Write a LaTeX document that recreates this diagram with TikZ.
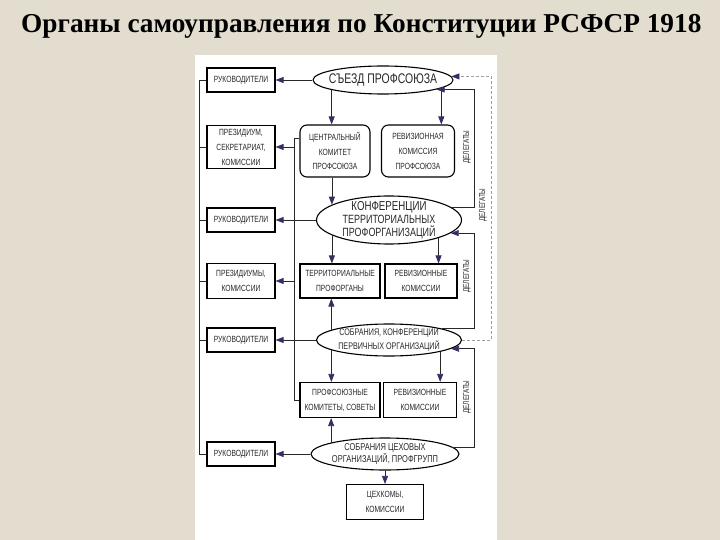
\documentclass[tikz,border=0pt]{standalone}
\usepackage{fontspec}
\setmainfont{Liberation Serif}
\newfontfamily\diagfont[FakeStretch=0.75]{Liberation Sans}
\usetikzlibrary{arrows.meta,shapes.geometric}
\definecolor{paper}{RGB}{227,221,208}
\definecolor{tipcol}{RGB}{58,44,98}
\definecolor{inkcol}{RGB}{40,40,40}

\begin{document}
\begin{tikzpicture}[
  x=1bp, y=-1bp,
  every node/.style={inner sep=1pt, text=inkcol},
  box/.style={draw=black, line width=1.1bp, align=center, inner sep=0pt,
    font=\diagfont\fontsize{9}{15}\selectfont},
  leftbox/.style={box, minimum width=68bp},
  rbox/.style={box, rounded corners=7bp},
  oval/.style={ellipse, draw=black, line width=1.1bp, fill=white, inner sep=0pt},
  olbl/.style={align=center, inner sep=0pt},
  deleg/.style={rotate=90, font=\diagfont\fontsize{8.5}{9}\selectfont},
  link/.style={draw=inkcol, line width=0.7bp},
  arrow/.style={link, -{Triangle[length=8bp,width=6bp,color=tipcol]}},
  darrow/.style={arrow, draw=gray!75, dash pattern=on 3bp off 2bp}]

  \useasboundingbox (0,0) rectangle (720,540);
  \fill[paper] (0,0) rectangle (720,540);
  \fill[white] (195,55) rectangle (497,540);

  \node[anchor=base west, text=black, font=\fontsize{27.4}{32}\selectfont\bfseries]
    (title) at (20,33) {Органы самоуправления по Конституции РСФСР 1918};

  % left column
  \node[leftbox, minimum height=24bp] (ruk1)  at (241,80)  {РУКОВОДИТЕЛИ};
  \node[leftbox, minimum height=43bp] (prez1) at (241,147) {ПРЕЗИДИУМ,\\СЕКРЕТАРИАТ,\\КОМИССИИ};
  \node[leftbox, minimum height=24bp] (ruk2)  at (241,220) {РУКОВОДИТЕЛИ};
  \node[leftbox, minimum height=35bp] (prez2) at (241,281) {ПРЕЗИДИУМЫ,\\КОМИССИИ};
  \node[leftbox, minimum height=24bp] (ruk3)  at (241,340) {РУКОВОДИТЕЛИ};
  \node[leftbox, minimum height=24bp] (ruk4)  at (241,454) {РУКОВОДИТЕЛИ};

  % middle column
  \node[oval, minimum width=140bp, minimum height=28bp,
    label={[olbl, font=\diagfont\fontsize{14}{16}\selectfont]center:{СЪЕЗД ПРОФСОЮЗА}}]
    (sezd) at (383,80) {};
  \node[rbox, minimum width=70bp, minimum height=52bp] (ck)   at (335,151) {ЦЕНТРАЛЬНЫЙ\\КОМИТЕТ\\ПРОФСОЮЗА};
  \node[rbox, minimum width=73bp, minimum height=52bp] (revk) at (418,151) {РЕВИЗИОННАЯ\\КОМИССИЯ\\ПРОФСОЮЗА};

  \node[oval, minimum width=145bp, minimum height=48bp,
    label={[olbl, font=\diagfont\fontsize{12}{13}\selectfont]center:{{\fontsize{13}{13}\selectfont КОНФЕРЕНЦИИ}\\ТЕРРИТОРИАЛЬНЫХ\\ПРОФОРГАНИЗАЦИЙ}}]
    (konf) at (389,220) {};
  \node[box, minimum width=80bp, minimum height=34bp] (terr) at (340,281) {ТЕРРИТОРИАЛЬНЫЕ\\ПРОФОРГАНЫ};
  \node[box, minimum width=72bp, minimum height=34bp] (revt) at (421,281) {РЕВИЗИОННЫЕ\\КОМИССИИ};

  \node[oval, minimum width=145bp, minimum height=32bp,
    label={[olbl, font=\diagfont\fontsize{9.6}{14}\selectfont]center:{СОБРАНИЯ, КОНФЕРЕНЦИИ\\ПЕРВИЧНЫХ ОРГАНИЗАЦИЙ}}]
    (perv) at (389,340) {};
  \node[box, minimum width=80bp, minimum height=35bp] (prof) at (340,400) {ПРОФСОЮЗНЫЕ\\КОМИТЕТЫ, СОВЕТЫ};
  \node[box, minimum width=73bp, minimum height=35bp] (revp) at (420,400) {РЕВИЗИОННЫЕ\\КОМИССИИ};

  \node[oval, minimum width=148bp, minimum height=32bp,
    label={[olbl, font=\diagfont\fontsize{10}{13}\selectfont]center:{СОБРАНИЯ ЦЕХОВЫХ\\ОРГАНИЗАЦИЙ, ПРОФГРУПП}}]
    (ceh) at (385,454) {};
  \node[box, minimum width=77bp, minimum height=35bp] (cehkom) at (385,502) {ЦЕХКОМЫ,\\КОМИССИИ};

  % delegates
  \node[deleg] (dl1) at (467,147) {ДЕЛЕГАТЫ};
  \node[deleg] (dl2) at (483,205) {ДЕЛЕГАТЫ};
  \node[deleg] (dl3) at (467,276) {ДЕЛЕГАТЫ};
  \node[deleg] (dl4) at (467,397) {ДЕЛЕГАТЫ};

  \coordinate (spine) at (199,0);
  \coordinate (mid)   at (294,0);
  \coordinate (dlg)   at (474,0);
  \coordinate (outer) at (491,0);
  \coordinate (cktop) at ([yshift=-14bp]ck.north west);

  % left spine
  \draw[link] (ruk1.west) -- (ruk1.west -| spine) |- (ruk4.west);
  \foreach \n in {prez1,ruk2,prez2,ruk3}
    \draw[link] (\n.west) -- (\n.west -| spine);

  % inner spine
  \draw[link] (cktop) -- (cktop -| mid) |- (prof.west);

  % to the left
  \draw[arrow] (sezd.west) -- (ruk1.east);
  \draw[arrow] (prez1.east -| mid) -- (prez1.east);
  \draw[arrow] (konf.west) -- (ruk2.east);
  \draw[arrow] (prez2.east -| mid) -- (prez2.east);
  \draw[arrow] (perv.west) -- (ruk3.east);
  \draw[arrow] (ceh.west) -- (ruk4.east);

  % down and up
  \draw[arrow] (sezd.191) -- (sezd.191 |- ck.north);
  \draw[arrow] (sezd.-8) -- (sezd.-8 |- revk.north);
  \draw[arrow] (konf.165 |- ck.south) -- (konf.165);
  \draw[arrow] (konf.195) -- (konf.195 |- terr.north);
  \draw[arrow] (konf.-20) -- (konf.-20 |- revt.north);
  \draw[arrow] (perv.170) -- (perv.170 |- terr.south);
  \draw[arrow] (perv.190) -- (perv.190 |- prof.north);
  \draw[arrow] (perv.-13) -- (perv.-13 |- revp.north);
  \draw[arrow] (ceh.168) -- (ceh.168 |- prof.south);
  \draw[arrow] (ceh.south) -- (cehkom.north);

  % delegates loops
  \draw[arrow] (konf.12) -- (konf.12 -| dlg) |- (sezd.-10);
  \draw[arrow] (perv.12) -- (perv.12 -| dlg) |- (konf.-12);
  \draw[arrow] (ceh.6) -- (ceh.6 -| dlg) |- (perv.-8);
  \draw[darrow] (perv.east) -- (perv.east -| outer) |- (sezd.3);

\end{tikzpicture}
\end{document}
